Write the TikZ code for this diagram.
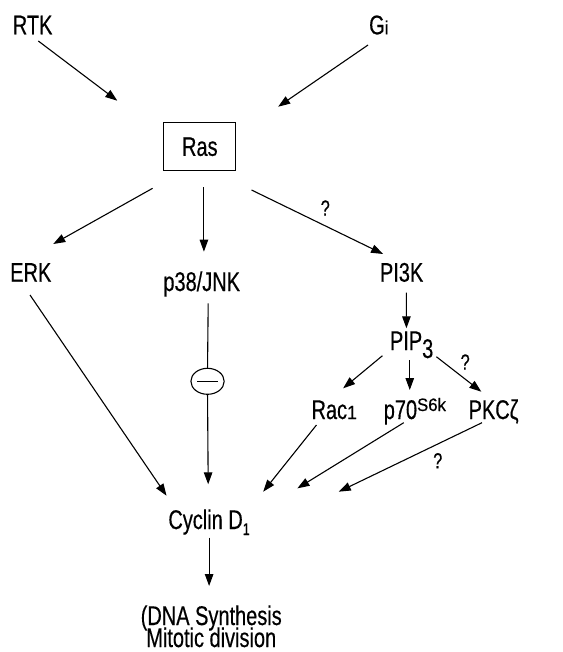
\documentclass[tikz,border=0pt]{standalone}
\usepackage{fontspec}
\setmainfont{Liberation Sans}[FakeStretch=0.74,FakeBold=0.4]
\newfontfamily\plainsans{Liberation Sans}[FakeStretch=0.93,FakeBold=0.4]
\usetikzlibrary{arrows.meta,shapes.geometric}

\newcommand{\bigtxt}{\fontsize{27}{27}\selectfont}

\begin{document}
\begin{tikzpicture}[x=0.9294pt,y=-1pt,
  lbl/.style={inner sep=0pt,anchor=base west,font=\bigtxt},
  qm/.style={inner sep=0pt,font=\fontsize{22}{22}\selectfont},
  arr/.style={line width=1.1pt,-{Triangle[length=12pt,width=8.5pt]}},
  ln/.style={line width=1.1pt}]
\useasboundingbox (0,0) rectangle (604.7,652);

% signalling components
\node[lbl] (rtk) at (13.6,34.3) {RTK};
\node[lbl] (gi)  at (397,34.3) {G{\plainsans\fontsize{19}{19}\selectfont i}};
\node[draw,line width=1.1pt,inner sep=0pt,minimum width=72pt,
      minimum height=48pt,font=\bigtxt] (ras) at (215,146.7) {Ras};
\node[lbl] (erk)  at (10.8,281.7) {ERK};
\node[lbl] (p38)  at (175.6,291) {p38/JNK};
\node[lbl] (pi3k) at (408.6,281.7) {PI3K};
\node[lbl] (pip)  at (419.4,350) {PIP\raisebox{-8pt}{3}};
\node[lbl] (rac)  at (335,419) {Rac{\plainsans\fontsize{19}{19}\selectfont 1}};
\node[lbl] (p70)  at (412.7,419) {p70\raisebox{8pt}{\plainsans\fontsize{18}{18}\selectfont S6k}};
\node[lbl] (pkc)  at (504,419) {PKCζ};
\node[draw,ellipse,line width=1.1pt,inner sep=0pt,
      minimum width=33.3pt,minimum height=26pt] (inh) at (223.3,381.3) {};
\draw[ln] ([xshift=-10.2pt]inh.center) -- ([xshift=10.2pt]inh.center);
\node[lbl] (cyc) at (181,529) {Cyclin D\raisebox{-6pt}{\fontsize{17}{17}\selectfont 1}};
\node[inner sep=0pt,anchor=base,font=\bigtxt,align=center] (dna) at (227.3,647)
  {(DNA Synthesis\\[-5pt]Mitotic division};

% upstream inputs to Ras
\draw[arr] ([shift={(27.6,6.7)}]rtk.base west) -- ([shift={(-88.8,-46)}]ras.center);
\draw[arr] ([shift={(-1,10.7)}]gi.base west) -- ([shift={(84.3,-40)}]ras.center);

% Ras effectors
\draw[arr] ([shift={(-50.8,41.6)}]ras.center) -- ([shift={(46.5,-37.7)}]erk.base west);
\draw[arr] ([shift={(4.4,40.6)}]ras.center) -- ([shift={(43.8,-39.3)}]p38.base west);
\draw[arr] ([shift={(55.6,43.3)}]ras.center) -- ([shift={(3.6,-27.7)}]pi3k.base west);
\node[qm] (q1) at (350,208) {?};

% PI3K branch
\draw[arr] ([shift={(28.7,11)}]pi3k.base west) -- ([shift={(17.9,-21.7)}]pip.base west);
\draw[arr] ([shift={(-7.9,5.7)}]pip.base west) -- ([shift={(34.2,-30.7)}]rac.base west);
\draw[arr] ([shift={(21.5,10)}]pip.base west) -- ([shift={(28.2,-29)}]p70.base west);
\draw[arr] ([shift={(50.1,6.7)}]pip.base west) -- ([shift={(13.9,-27.3)}]pkc.base west);
\node[qm] (q2) at (500.5,362) {?};

% convergence on cyclin D1
\draw[arr] ([shift={(21.5,13.3)}]erk.base west) -- ([shift={(-1.8,-33.3)}]cyc.base west);
\draw[ln] ([shift={(48.4,12.3)}]p38.base west) -- (inh.north);
\draw[arr] (inh.south) -- ([shift={(43,-44.7)}]cyc.base west);
\draw[arr] ([shift={(5.5,6)}]rac.base west) -- ([shift={(102.2,-37.3)}]cyc.base west);
\draw[arr] ([shift={(21.7,3.7)}]p70.base west) -- ([shift={(139,-40.7)}]cyc.base west);
\draw[arr] ([shift={(14.6,3.7)}]pkc.base west) -- ([shift={(183.5,-37.3)}]cyc.base west);
\node[qm] (q3) at (471,460.7) {?};

% outcome
\draw[arr] ([shift={(44,8.7)}]cyc.base west) -- ([shift={(-2.3,-61)}]dna.base);
\end{tikzpicture}
\end{document}
